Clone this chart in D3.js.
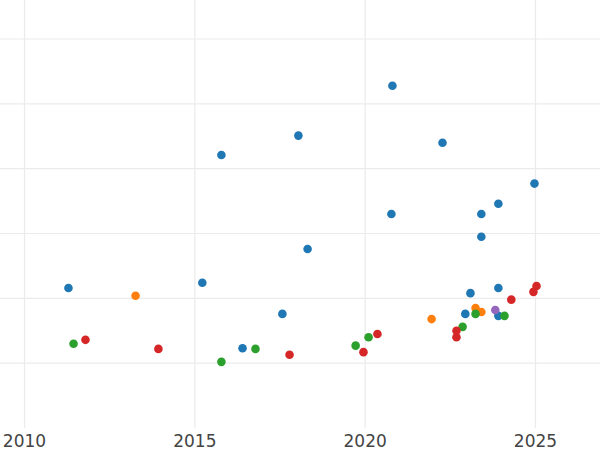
<!DOCTYPE html>
<html lang="en">
<head>
<meta charset="UTF-8">
<script src="https://d3js.org/d3.v7.min.js"></script>
<style>
  body { margin: 0; background: #fff; font-family: "DejaVu Sans", sans-serif; }
</style>
</head>
<body>
<svg id="chart" width="600" height="450"></svg>
<script>
// values
const blueX = [2011.29, 2015.78, 2015.22, 2018.04, 2018.31, 2017.57, 2016.40, 2020.80, 2020.77, 2022.27, 2024.97, 2023.91, 2023.41, 2023.41, 2023.91, 2023.09, 2022.94, 2023.91];
const blueY = [2.16, 4.21, 2.24, 4.51, 2.76, 1.76, 1.23, 5.28, 3.30, 4.40, 3.77, 3.46, 3.30, 2.95, 2.16, 2.08, 1.76, 1.73];
const orangeX = [2013.26, 2021.95, 2023.24, 2023.41];
const orangeY = [2.04, 1.68, 1.85, 1.79];
const greenX = [2011.44, 2015.78, 2016.78, 2019.72, 2020.10, 2022.86, 2023.24, 2024.09];
const greenY = [1.30, 1.02, 1.22, 1.27, 1.40, 1.56, 1.76, 1.73];
const redX = [2011.79, 2013.93, 2017.78, 2019.95, 2020.36, 2022.68, 2022.68, 2024.29, 2024.94, 2025.03];
const redY = [1.36, 1.22, 1.13, 1.17, 1.45, 1.50, 1.40, 1.98, 2.10, 2.19];
const purpleX = [2023.82];
const purpleY = [1.82];
const xTicks = [2010, 2015, 2020, 2025];
const yGrid = [1, 2, 3, 4, 5, 6];

const series = [
  { color: "#1f77b4", x: blueX, y: blueY },
  { color: "#ff7f0e", x: orangeX, y: orangeY },
  { color: "#2ca02c", x: greenX, y: greenY },
  { color: "#d62728", x: redX, y: redY },
  { color: "#9467bd", x: purpleX, y: purpleY }
];

const svg = d3.select("#chart");
const x = d3.scaleLinear().domain([2010, 2025]).range([24.5, 535.5]);
const y = d3.scaleLinear().domain([0, 6]).range([428, 39]);

// grid
svg.append("g").selectAll("line").data(xTicks).join("line")
  .attr("x1", d => x(d)).attr("x2", d => x(d))
  .attr("y1", 0).attr("y2", 428)
  .attr("stroke", "#ebebeb").attr("stroke-width", 1.2);
svg.append("g").selectAll("line").data(yGrid).join("line")
  .attr("x1", 0).attr("x2", 600)
  .attr("y1", d => y(d)).attr("y2", d => y(d))
  .attr("stroke", "#ebebeb").attr("stroke-width", 1.2);

// x labels
svg.append("g").selectAll("text").data(xTicks).join("text")
  .attr("x", d => x(d)).attr("y", 447)
  .attr("text-anchor", "middle")
  .attr("font-size", 17).attr("fill", "#444")
  .text(d => d);

// points
series.forEach(s => {
  svg.append("g").selectAll("circle").data(s.x.map((v, i) => [v, s.y[i]])).join("circle")
    .attr("cx", d => x(d[0])).attr("cy", d => y(d[1]))
    .attr("r", 4.3).attr("fill", s.color);
});
</script>
</body>
</html>
